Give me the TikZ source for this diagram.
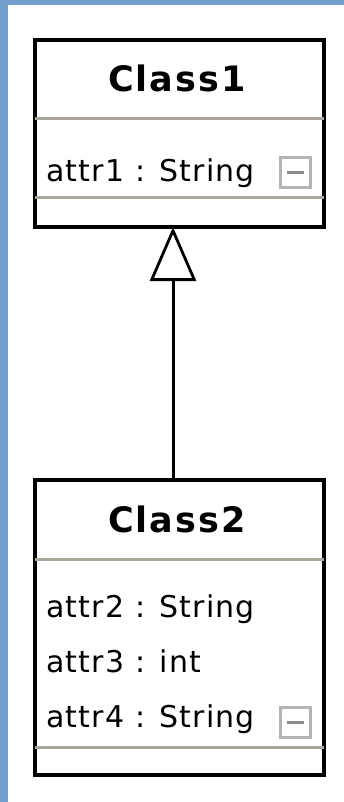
\documentclass[tikz,border=0pt]{standalone}
\usepackage{fontspec}
\usetikzlibrary{arrows.meta}
\newfontfamily\attrfont[LetterSpace=4]{DejaVu Sans}
\newfontfamily\titlefont[LetterSpace=6]{DejaVu Sans Bold}
\definecolor{frameblue}{RGB}{115,160,207}
\definecolor{sepgray}{RGB}{172,168,153}
\definecolor{minusframe}{RGB}{180,180,180}
\definecolor{minusbar}{RGB}{140,140,140}
\tikzset{
  classbox/.style={draw=black, line width=3.5pt, fill=white, rectangle, minimum width=289pt, inner sep=0pt, outer sep=0pt},
  sepline/.style={draw=sepgray, line width=3pt},
  titletext/.style={font=\titlefont\fontsize{35}{38}\selectfont, anchor=base, inner sep=0pt},
  attrtext/.style={font=\attrfont\fontsize{30}{34}\selectfont, anchor=base west, inner sep=0pt},
  minusbox/.style={draw=minusframe, line width=3pt, minimum size=30pt, inner sep=0pt, fill=white},
  minusdash/.style={draw=minusbar, line width=3pt},
  inherit/.style={draw=black, line width=3pt, -{Triangle[open, length=54pt, width=46pt, line width=2.8pt]}}
}
\begin{document}
\begin{tikzpicture}[x=1pt, y=-1pt]
\useasboundingbox (0,0) rectangle (344,802);
\fill[white] (0,0) rectangle (344,802);
\fill[frameblue] (0,0) rectangle (8,802);
\fill[frameblue] (0,0) rectangle (344,5);

% Class1
\node[classbox, minimum height=187pt] (c1) at (179.5,133.5) {};
\draw[sepline] (c1.west |- 0,118.5) -- (c1.east |- 0,118.5);
\draw[sepline] (c1.west |- 0,198) -- (c1.east |- 0,198);
\node[titletext] (t1) at (177,92) {Class1};
\node[attrtext] (a1) at (46,182) {attr1 : String};
\node[minusbox] (m1) at (295.5,172.5) {};
\draw[minusdash] ([xshift=-8.5pt]m1.center) -- ([xshift=8.5pt]m1.center);

% Class2
\node[classbox, minimum height=295pt] (c2) at (179.5,627.5) {};
\draw[sepline] (c2.west |- 0,559.5) -- (c2.east |- 0,559.5);
\draw[sepline] (c2.west |- 0,747) -- (c2.east |- 0,747);
\node[titletext] (t2) at (177,532) {Class2};
\node[attrtext] (a2) at (46,617) {attr2 : String};
\node[attrtext] (a3) at (46,672) {attr3 : int};
\node[attrtext] (a4) at (46,727) {attr4 : String};
\node[minusbox] (m2) at (295.5,722) {};
\draw[minusdash] ([xshift=-8.5pt]m2.center) -- ([xshift=8.5pt]m2.center);

% Generalization
\draw[inherit] ([xshift=-6.5pt]c2.north) -- ([xshift=-6.5pt]c1.south);
\end{tikzpicture}
\end{document}
